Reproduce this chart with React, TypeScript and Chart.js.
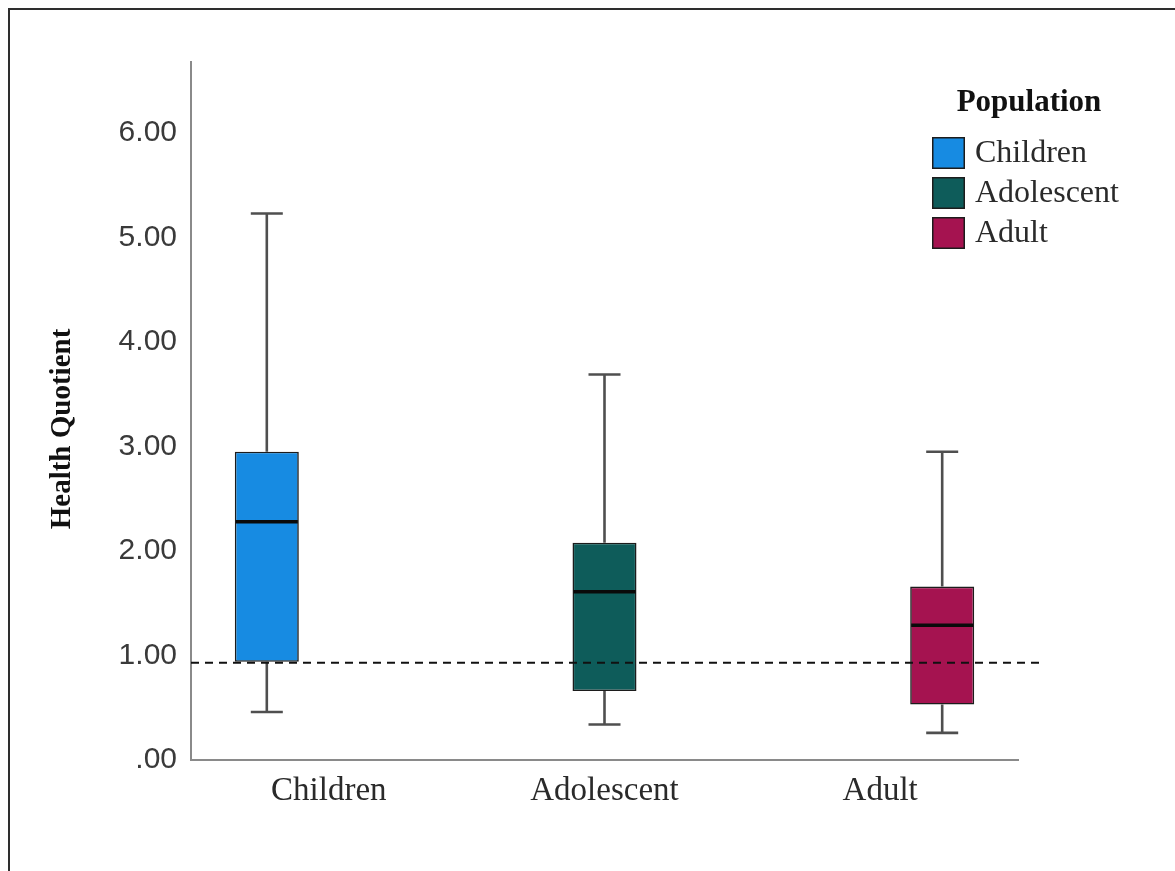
import React, { useEffect, useRef } from 'react';
import { Chart, registerables } from 'chart.js';

Chart.register(...registerables);

const categories = ['Children', 'Adolescent', 'Adult'];
const whiskerLow = [0.46, 0.34, 0.26];
const q1 = [0.94, 0.66, 0.53];
const median = [2.28, 1.61, 1.29];
const q3 = [2.95, 2.08, 1.66];
const whiskerHigh = [5.23, 3.69, 2.95];
const referenceLine = 0.93;
const yTicks = [0, 1, 2, 3, 4, 5, 6];
const colors = ['#178be2', '#0e5c5a', '#a51350'];
const legendTitle = 'Population';
const yTitle = 'Health Quotient';

const boxExtras = {
  id: 'boxExtras',
  afterDatasetsDraw(chart: any) {
    const ctx = chart.ctx;
    const y = chart.scales.y;
    const area = chart.chartArea;
    chart.data.datasets.forEach((_ds: any, i: number) => {
      const meta = chart.getDatasetMeta(i);
      const el = meta.data[i];
      if (!el) return;
      const x = el.x;
      const w = el.width;
      const pHi = y.getPixelForValue(whiskerHigh[i]);
      const pQ3 = y.getPixelForValue(q3[i]);
      const pQ1 = y.getPixelForValue(q1[i]);
      const pLo = y.getPixelForValue(whiskerLow[i]);
      const pMed = y.getPixelForValue(median[i]);
      ctx.save();
      ctx.strokeStyle = '#4f4f4f';
      ctx.lineWidth = 2.6;
      ctx.beginPath();
      ctx.moveTo(x, pQ3);
      ctx.lineTo(x, pHi);
      ctx.moveTo(x - w / 4, pHi);
      ctx.lineTo(x + w / 4, pHi);
      ctx.moveTo(x, pQ1);
      ctx.lineTo(x, pLo);
      ctx.moveTo(x - w / 4, pLo);
      ctx.lineTo(x + w / 4, pLo);
      ctx.stroke();
      ctx.strokeStyle = '#0a0a0a';
      ctx.lineWidth = 3.5;
      ctx.beginPath();
      ctx.moveTo(x - w / 2 + 1, pMed);
      ctx.lineTo(x + w / 2 - 1, pMed);
      ctx.stroke();
      ctx.restore();
    });
    const pRef = y.getPixelForValue(referenceLine);
    ctx.save();
    ctx.strokeStyle = '#111';
    ctx.lineWidth = 2;
    ctx.setLineDash([8, 6]);
    ctx.beginPath();
    ctx.moveTo(area.left, pRef);
    ctx.lineTo(area.right + 24, pRef);
    ctx.stroke();
    ctx.restore();
  },
  afterDraw(chart: any) {
    const ctx = chart.ctx;
    ctx.save();
    // y-axis title
    ctx.fillStyle = '#111';
    ctx.font = 'bold 29px "Liberation Serif"';
    ctx.textAlign = 'center';
    ctx.textBaseline = 'middle';
    ctx.translate(53, 419);
    ctx.rotate(-Math.PI / 2);
    ctx.fillText(yTitle, 0, 0);
    ctx.setTransform(1, 0, 0, 1, 0, 0);
    // legend
    ctx.font = 'bold 31px "Liberation Serif"';
    ctx.fillText(legendTitle, 1019, 93);
    ctx.textAlign = 'left';
    ctx.font = '32px "Liberation Serif"';
    chart.data.datasets.forEach((ds: any, i: number) => {
      const cy = 143 + i * 40;
      ctx.fillStyle = ds.backgroundColor;
      ctx.fillRect(922, cy - 16, 33, 32);
      ctx.strokeStyle = '#1c1c1c';
      ctx.lineWidth = 1.5;
      ctx.strokeRect(922.75, cy - 15.25, 31.5, 30.5);
      ctx.fillStyle = '#2a2a2a';
      ctx.fillText(ds.label, 965, cy + 1);
    });
    ctx.restore();
  },
};

export default function App() {
  const ref = useRef<HTMLCanvasElement>(null);
  useEffect(() => {
    if (!ref.current) return;
    const chart = new Chart(ref.current, {
      type: 'bar',
      data: {
        labels: categories,
        datasets: categories.map((c, i) => ({
          label: c,
          data: categories.map((_, j) => (j === i ? [q1[i], q3[i]] : null)) as any,
          backgroundColor: colors[i],
          borderColor: '#1c1c1c',
          borderWidth: 1.6,
          borderSkipped: false,
          categoryPercentage: 0.675,
          barPercentage: 1.032,
        })),
      },
      options: {
        animation: false,
        responsive: true,
        maintainAspectRatio: false,
        layout: { padding: { left: 0, top: 52, right: 149, bottom: 43 } },
        plugins: { legend: { display: false }, tooltip: { enabled: false } },
        scales: {
          x: {
            grid: { display: false, drawTicks: false },
            border: { display: true, color: '#8a8a8a', width: 2 },
            ticks: {
              color: '#2a2a2a',
              font: { family: 'Liberation Serif', size: 33 },
              padding: 12,
              maxRotation: 0,
              autoSkip: false,
            },
            afterFit: (s: any) => {
              s.height = 60;
            },
          },
          y: {
            min: 0,
            max: 6.68,
            grid: { display: false, drawTicks: false },
            border: { display: true, color: '#8a8a8a', width: 2 },
            afterBuildTicks: (s: any) => {
              s.ticks = yTicks.map((v) => ({ value: v }));
            },
            ticks: {
              color: '#3a3a3a',
              font: { family: 'Liberation Sans', size: 30 },
              padding: 14,
              callback: (v: any) => (Number(v) === 0 ? '.00' : Number(v).toFixed(2)),
            },
            afterFit: (s: any) => {
              s.width = 181;
            },
          },
        },
      },
      plugins: [boxExtras],
    });
    return () => chart.destroy();
  }, []);
  return (
    <div
      style={{
        position: 'fixed',
        left: 8,
        top: 8,
        width: 1167,
        height: 863,
        boxSizing: 'border-box',
        borderLeft: '2px solid #2e2e2e',
        borderTop: '2px solid #2e2e2e',
        background: '#fff',
      }}
    >
      <div style={{ position: 'relative', width: 1157, height: 853 }}>
        <canvas ref={ref} />
      </div>
    </div>
  );
}
